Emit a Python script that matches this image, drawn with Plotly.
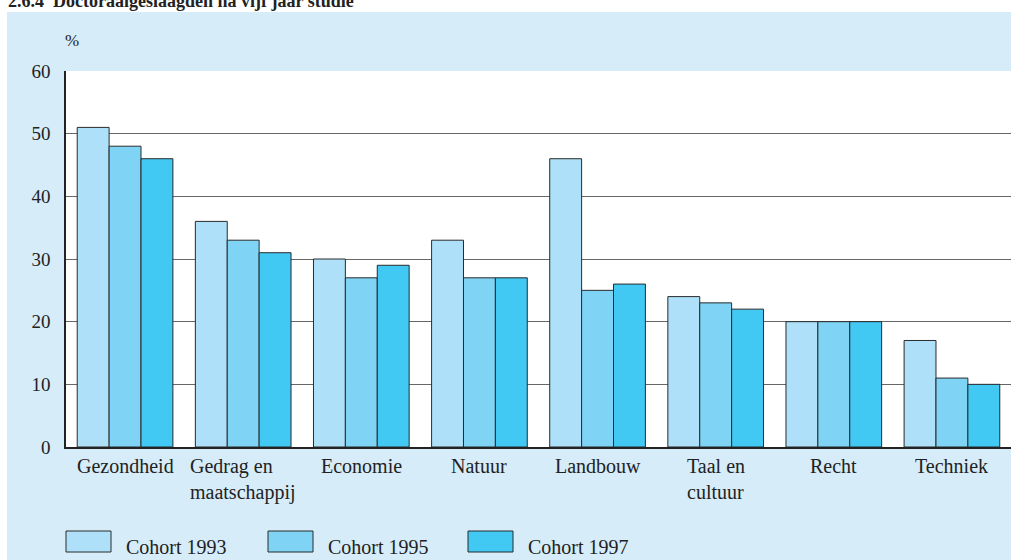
import plotly.graph_objects as go

categories = ["Gezondheid", "Gedrag en<br>maatschappij", "Economie", "Natuur",
              "Landbouw", "Taal en<br>cultuur", "Recht", "Techniek"]
series_names = ["Cohort 1993", "Cohort 1995", "Cohort 1997"]
cohort_1993 = [51, 36, 30, 33, 46, 24, 20, 17]
cohort_1995 = [48, 33, 27, 27, 25, 23, 20, 11]
cohort_1997 = [46, 31, 29, 27, 26, 22, 20, 10]
y_ticks = [0, 10, 20, 30, 40, 50, 60]
colors = ["#aee1f9", "#7fd4f5", "#41c8f3"]

W, H = 1011, 560
ML, MR, MT, MB = 66, 0, 71, 113
PW, PH = W - ML - MR, H - MT - MB

def px_x(p):
    return (p - ML) / PW

def px_y(p):
    return (H - MB - p) / PH

FONT = "Liberation Serif"
TXT = "#222222"

fig = go.Figure()
keys = [f"c{i}" for i in range(len(categories))]
for name, vals, col in zip(series_names, [cohort_1993, cohort_1995, cohort_1997], colors):
    fig.add_trace(go.Bar(x=keys, y=vals, name=name,
                         marker=dict(color=col, line=dict(color="#2a2a2a", width=1)),
                         showlegend=False))

annotations = []
for k, c in zip(keys, categories):
    annotations.append(dict(x=k, xref="x", y=px_y(453), yref="paper", text=c, showarrow=False,
                            xanchor="center", yanchor="top", align="left",
                            font=dict(family=FONT, size=20, color=TXT)))
annotations.append(dict(x=px_x(63), xref="paper", y=px_y(40), yref="paper", text="%", showarrow=False,
                        xanchor="left", yanchor="middle", font=dict(family=FONT, size=17, color=TXT)))
annotations.append(dict(x=px_x(6), xref="paper", y=px_y(13), yref="paper",
                        text="<b>2.6.4  Doctoraalgeslaagden na vijf jaar studie</b>", showarrow=False,
                        xanchor="left", yanchor="bottom", font=dict(family=FONT, size=18, color=TXT)))

shapes = [
    dict(type="rect", xref="paper", yref="paper", x0=px_x(-5), x1=px_x(W + 5), y0=px_y(12), y1=px_y(-40),
         fillcolor="white", line=dict(width=0), layer="below"),
    dict(type="rect", xref="paper", yref="paper", x0=px_x(-5), x1=px_x(7), y0=px_y(H + 5), y1=px_y(-40),
         fillcolor="white", line=dict(width=0), layer="below"),
]
legend_x = [66, 268, 468]
for lx, name, col in zip(legend_x, series_names, colors):
    shapes.append(dict(type="rect", xref="paper", yref="paper", x0=px_x(lx), x1=px_x(lx + 45),
                       y0=px_y(552), y1=px_y(531), fillcolor=col, line=dict(color="#2a2a2a", width=1)))
    annotations.append(dict(x=px_x(lx + 58), xref="paper", y=px_y(547), yref="paper", text=name,
                            showarrow=False, xanchor="left", yanchor="middle",
                            font=dict(family=FONT, size=20, color=TXT)))

fig.update_layout(
    width=W, height=H, margin=dict(l=ML, r=MR, t=MT, b=MB),
    paper_bgcolor="#d6ecf9", plot_bgcolor="white",
    barmode="group", bargap=0.19, bargroupgap=0,
    font=dict(family=FONT, size=20, color=TXT),
    xaxis=dict(showticklabels=False, showgrid=False, showline=True, linecolor="#222222", linewidth=1.5,
               ticks="", fixedrange=True),
    yaxis=dict(range=[0, 60], tickvals=y_ticks, showgrid=True, gridcolor="#666666", gridwidth=1,
               showline=True, linecolor="#222222", linewidth=1.5, ticks="", zeroline=False,
               ticklabelstandoff=10, tickfont=dict(family=FONT, size=19, color=TXT)),
    annotations=annotations, shapes=shapes,
)
fig.write_html("out.html", config={"displayModeBar": False},
               post_script="document.body.style.margin='0';document.body.style.overflow='hidden';")
